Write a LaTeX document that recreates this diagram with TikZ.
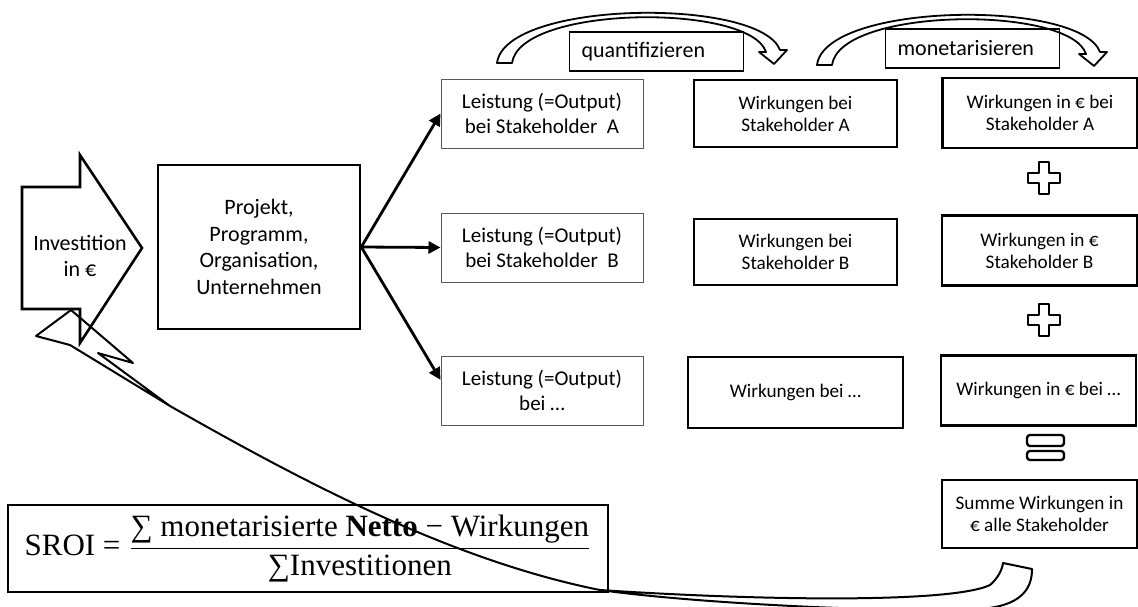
\documentclass[tikz,border=0pt]{standalone}
\usepackage{fontspec}
\setmainfont{Carlito}
\newfontfamily\formelfont{Liberation Serif}
\usetikzlibrary{arrows.meta}

\tikzset{
  leistbox/.style={draw=gray!70!black, line width=0.5pt, minimum width=101pt, minimum height=34.5pt, align=center, font=\fontsize{10.5}{12.4}\selectfont},
  wirkbox/.style={draw, line width=1.3pt, minimum width=101.5pt, minimum height=33.5pt, align=center, font=\fontsize{9.6}{10.9}\selectfont},
  eurobox/.style={draw, line width=1.1pt, minimum width=97.5pt, minimum height=35pt, align=center, font=\fontsize{9.6}{10.9}\selectfont},
  labelbox/.style={draw, line width=0.6pt, anchor=west, text width=75pt, inner xsep=6pt, minimum height=19.5pt, align=left},
  pfeil/.style={line width=1.4pt, -{Triangle[length=6pt,width=6pt]}},
  zeichen/.style={line width=1.2pt, line join=round},
  bogen/.style={line width=0.9pt, line join=round}
}

\begin{document}
\begin{tikzpicture}[x=0.5pt,y=-0.5pt,font=\fontsize{11}{13.3}\selectfont]
		\useasboundingbox (0,0) rectangle (1138,606);
		%Investition
		\draw[line width=1.3pt] (22,187) -- (80,187) -- (80,155) -- (142,248) -- (80,343) -- (80,309) -- (22,309) -- cycle;
		\node at (80,256) [align=center] (invest) {Investition\\in €};
		\node at (259,247) [draw, line width=1.3pt, minimum width=101pt, minimum height=82pt, align=center] (projekt) {Projekt,\\Programm,\\Organisation,\\Unternehmen};
		%Leistungen
		\node at (542,113.5) [leistbox] (leist1) {Leistung (=Output)\\bei Stakeholder\ \ A};
		\node at (542,247.5) [leistbox] (leist2) {Leistung (=Output)\\bei Stakeholder\ \ B};
		\node at (542,390.5) [leistbox] (leist3) {Leistung (=Output)\\bei …};
		\draw[pfeil] (projekt.east) -- (leist1.west);
		\draw[pfeil] (projekt.east) -- (leist2.west);
		\draw[pfeil] (projekt.east) -- (leist3.174);
		%Wirkungen
		\node at (795.5,113.5) [wirkbox] (wirk1) {Wirkungen bei\\Stakeholder A};
		\node at (795.5,252) [wirkbox, minimum height=33pt] (wirk2) {Wirkungen bei\\Stakeholder B};
		\node at (795.5,392.5) [wirkbox, minimum width=107.5pt, minimum height=35.5pt] (wirk3) {Wirkungen bei …};
		%Wirkungen in Euro
		\node at (1040,113) [eurobox] (euro1) {Wirkungen in € bei\\Stakeholder A};
		\node at (1039.5,250.5) [eurobox] (euro2) {Wirkungen in €\\Stakeholder B};
		\node at (1038.5,390.5) [eurobox] (euro3) {Wirkungen in € bei …};
		\node at (1039.5,514) [eurobox, line width=0.9pt, minimum height=34pt] (summe) {Summe Wirkungen in\\€ alle Stakeholder};
		%Plus und Gleich
		\foreach \py in {178,320} {
			\draw[zeichen] (1044,\py) ++(-5,-16) -- ++(10,0) -- ++(0,11) -- ++(11,0) -- ++(0,10) -- ++(-11,0) -- ++(0,11) -- ++(-10,0) -- ++(0,-11) -- ++(-11,0) -- ++(0,-10) -- ++(11,0) -- cycle;
		}
		\draw[zeichen, rounded corners=1.5pt] (1027,435) rectangle (1064,446);
		\draw[zeichen, rounded corners=1.5pt] (1027,451) rectangle (1064,460);
		%Boegen oben
		\node at (569,51.5) [labelbox] (quant) {quantifizieren};
		\node at (885,48.5) [labelbox] (monet) {monetarisieren};
		\foreach \dx/\dy in {0/0,320/2} {
			\begin{scope}[shift={(\dx,\dy)}]
			\draw[bogen] (497,63) .. controls (505,0) and (760,-3) .. (780,50) -- (787,50) -- (774,64) -- (759,52) -- (766,52) .. controls (750,3) and (520,5) .. (512,63) -- cycle;
			\end{scope}
		}
		%Formel
		\node at (308,548.5) [draw, line width=0.8pt, minimum width=300pt, minimum height=43.5pt, font=\formelfont\fontsize{15.5}{18}\selectfont] (sroi) {SROI = $\displaystyle\frac{\mbox{∑ monetarisierte \textbf{Netto} − Wirkungen}}{\mbox{∑Investitionen}}$};
		%Rueckpfeil
		\draw[line width=1pt, line join=round] (1003,563) -- (1032,569) .. controls (1032,590) and (1020,606) .. (980,609) .. controls (900,613) and (700,604) .. (600,590) .. controls (450,560) and (300,480) .. (170,406) -- (98,353) -- (133,363) -- (71,310) -- (36,336) -- (70,345) -- (170,406) .. controls (300,480) and (450,560) .. (600,590) .. controls (750,600) and (950,604) .. (990,585) .. controls (998,578) and (1002,570) .. (1003,563) -- cycle;
\end{tikzpicture}
\end{document}
